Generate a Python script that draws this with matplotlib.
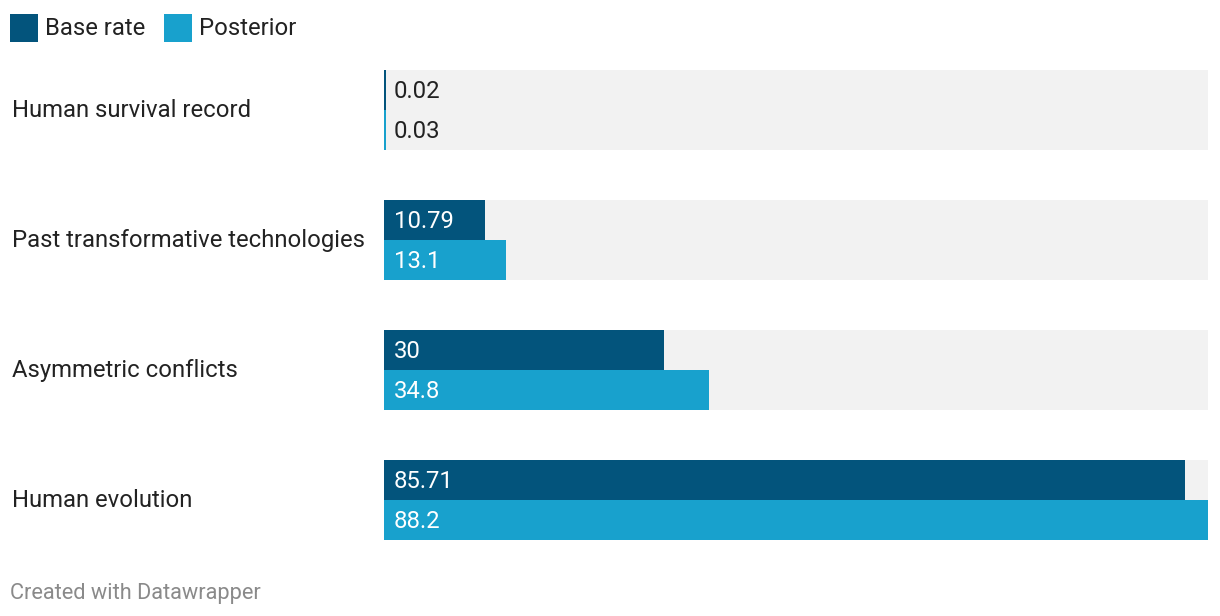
import matplotlib.pyplot as plt
from matplotlib.patches import Rectangle

plt.rcParams['font.family'] = ['Roboto', 'DejaVu Sans']

# data
categories = ["Human survival record", "Past transformative technologies",
              "Asymmetric conflicts", "Human evolution"]
base_rate = [0.02, 10.79, 30, 85.71]
posterior = [0.03, 13.1, 34.8, 88.2]
base_labels = ["0.02", "10.79", "30", "85.71"]
post_labels = ["0.03", "13.1", "34.8", "88.2"]
series_names = ["Base rate", "Posterior"]

c_base = "#03547c"
c_post = "#18a1cd"
c_bg = "#f2f2f2"
c_text = "#222222"
fs = 17.2

W, H = 1220, 616
fig = plt.figure(figsize=(W / 100, H / 100), dpi=100)

# plot area in pixel coords: x 384..1208, y 70..540
ax = fig.add_axes([384 / W, (H - 540) / H, 824 / W, 470 / H])
xmax = max(posterior)
ax.set_xlim(0, xmax)
ax.set_ylim(470, 0)
ax.axis("off")

pitch, bh = 130, 40
min_w = xmax * 2 / 824  # keep tiny bars visible (~2px)
for i, cat in enumerate(categories):
    y0 = i * pitch
    ax.barh(y0 + bh, xmax, height=2 * bh, align="center", color=c_bg, lw=0)
    for j, (vals, labs, col) in enumerate([(base_rate, base_labels, c_base),
                                          (posterior, post_labels, c_post)]):
        v = vals[i]
        yc = y0 + bh / 2 + j * bh
        ax.barh(yc, max(v, min_w), height=bh, align="center", color=col, lw=0)
        inside = v / xmax * 824 > 60
        ax.text(xmax * 10 / 824, yc + 1.5, labs[i], va="center", ha="left",
                fontsize=fs, color="white" if inside else c_text)
    # row label
    fig.text(12 / W, (H - (y0 + 70 + bh + 0.5)) / H, cat, va="center",
             ha="left", fontsize=fs, color=c_text)

# legend
for x0, name, col in [(10, series_names[0], c_base), (164, series_names[1], c_post)]:
    fig.patches.append(Rectangle((x0 / W, (H - 42) / H), 28 / W, 28 / H,
                                 transform=fig.transFigure, color=col, lw=0))
    fig.text((x0 + 35) / W, (H - 28.5) / H, name, va="center", ha="left",
             fontsize=fs, color=c_text)

# footer
fig.text(10 / W, (H - 593) / H, "Created with Datawrapper", va="center",
         ha="left", fontsize=15.7, color="#8a8a8a")

fig.savefig("out.png", dpi=100, facecolor="white")
